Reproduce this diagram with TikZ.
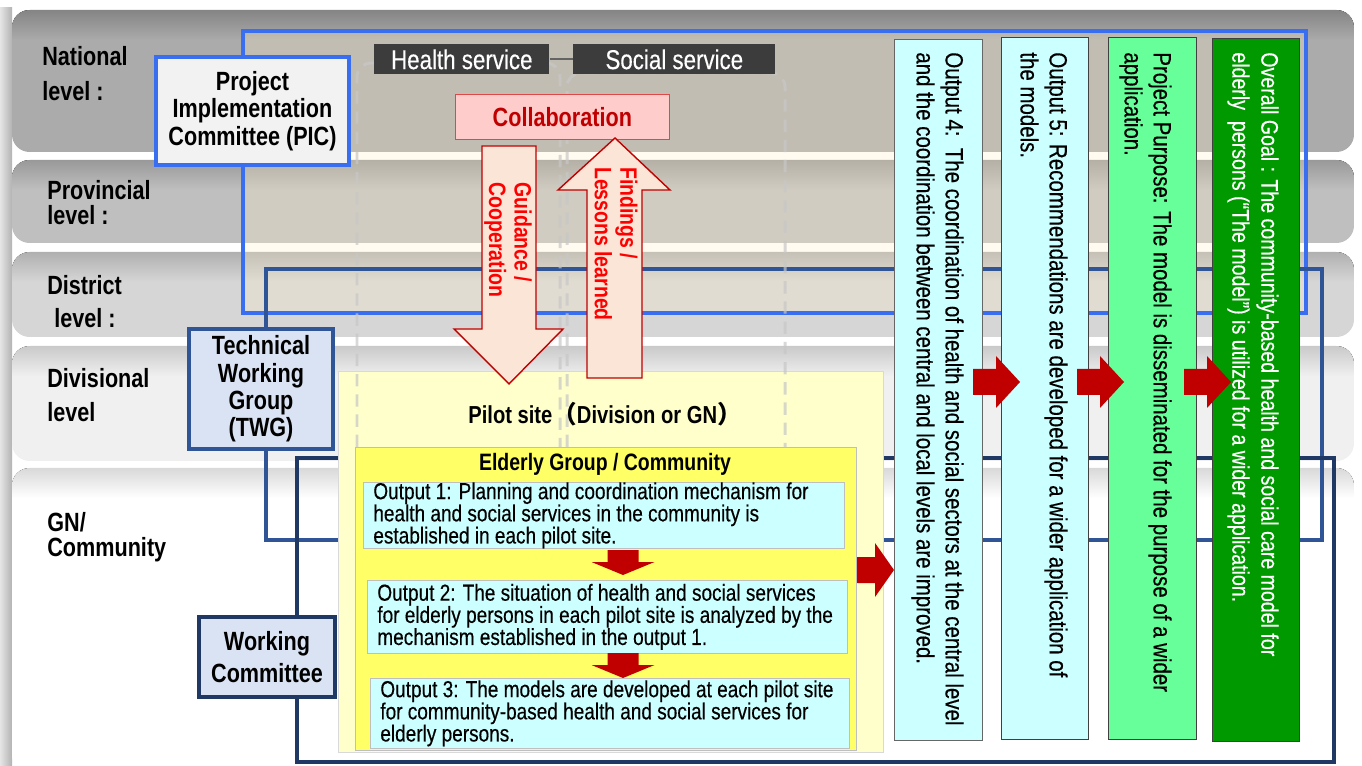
\documentclass[tikz,border=0pt]{standalone}
\usepackage{fontspec}
\setmainfont{Liberation Sans}[FakeStretch=0.82]
\newfontfamily\medfont{Liberation Sans}[FakeStretch=0.82, FakeBold=0.35]
\newfontfamily\cjkfont{Noto Sans CJK SC}

\definecolor{picblue}{HTML}{3A6EF0}
\definecolor{twgblue}{HTML}{2F5597}
\definecolor{wcnavy}{HTML}{1F3864}
\definecolor{boxblue}{HTML}{DAE3F3}
\definecolor{picfill}{HTML}{F2F2F2}
\definecolor{tanfill}{HTML}{FFEFC8}
\definecolor{darkred}{HTML}{C00000}
\definecolor{fatpeach}{HTML}{FBE5D6}
\definecolor{collabpink}{HTML}{FFCCCC}
\definecolor{collabred}{HTML}{E04848}
\definecolor{paleyellow}{HTML}{FFFFCC}
\definecolor{yellowbox}{HTML}{FFFF66}
\definecolor{cyanbox}{HTML}{CCFFFF}
\definecolor{lightgreen}{HTML}{66FF99}
\definecolor{darkgreen}{HTML}{009900}
\definecolor{servicegray}{HTML}{3C3C3C}

\tikzset{
    lvltext/.style={anchor=north west, align=left, inner sep=0pt, font=\bfseries\fontsize{15}{#1}\selectfont},
    orgframe/.style={line width=2.3pt},
    orgbox/.style={draw=#1, line width=2.3pt, fill=boxblue, anchor=north west, align=center, inner sep=0pt, font=\bfseries\fontsize{15}{15.6}\selectfont},
    service/.style={fill=servicegray, text=white, anchor=north west, inner sep=0pt, minimum height=0.6cm, font=\medfont\fontsize{15.5}{16}\selectfont},
    sitebox/.style={anchor=north west, inner sep=0pt, draw=black!15},
    sitetitle/.style={inner sep=0pt, font=\bfseries\fontsize{#1}{#1}\selectfont},
    outbox/.style={anchor=north west, inner sep=0pt, draw=black!25, fill=cyanbox},
    outtext/.style={anchor=west, align=left, inner sep=0pt, font=\medfont\fontsize{13.2}{12.6}\selectfont},
    colbox/.style={anchor=north west, inner sep=0pt, draw=black!75, line width=0.7pt},
    coltext/.style={rotate=-90, anchor=north west, align=left, inner sep=0pt, font=\medfont\fontsize{#1}{16.5}\selectfont},
    fatarrow/.style={draw=darkred, fill=fatpeach, line width=0.8pt},
    fattext/.style={rotate=-90, align=left, text=red, inner sep=0pt, font=\bfseries\fontsize{13.5}{14.5}\selectfont},
    redarrow/.style={fill=darkred},
    dashcol/.style={black!22, opacity=0.7, line width=1.7pt, dash pattern=on 7pt off 4.5pt, rounded corners=8pt}
}

\begin{document}
\begin{tikzpicture}[x=0.02cm, y=-0.02cm]
\useasboundingbox (0,0) rectangle (1362,766);

% level bands
\fill[left color=black!10, right color=black!30] (0,8) rectangle (12,766);
\foreach \ya/\yb/\c in {10/152/33, 160/243/25, 252/337/16, 346/461/6, 468/772/0}
{
    \pgfmathtruncatemacro\dk{\c+15}
    \begin{scope}
        \clip[rounded corners=10pt] (12,\ya) rectangle (1354,\yb);
        \fill[black!\c] (12,\ya) rectangle (1354,\yb);
        \fill[top color=black!\dk, bottom color=black!\c] (12,\ya) rectangle (1354,\ya+30);
    \end{scope}
}

% committee frames
\fill[tanfill, fill opacity=0.28] (243,31) rectangle (1306,313);
\draw[orgframe, picblue] (243,31) rectangle (1306,313);
\draw[orgframe, twgblue] (266,269) rectangle (1322,540);
\draw[orgframe, wcnavy] (297,458) rectangle (1334,762);

% pilot site
\node[sitebox, fill=paleyellow, minimum width=10.9cm, minimum height=7.62cm] (pilot) at (338,371) {};
\draw[dashcol] (357,447) -- (357,63) -- (560,63) -- (560,447);
\draw[dashcol] (567,447) -- (567,73) -- (785,73) -- (785,447);
\node[sitebox, fill=yellowbox, draw=black!25, minimum width=10.02cm, minimum height=6.06cm] (elderly) at (355,447) {};
\node[sitetitle=14] (pilottitle) at (605,414) {Pilot site{\cjkfont （}Division or GN{\cjkfont ）}};
\node[sitetitle=13.5] (elderlytitle) at (605,464) {Elderly Group / Community};

\node[outbox, minimum width=9.62cm, minimum height=1.32cm] (out1) at (363,482) {};
\node[outtext] (out1text) at ([xshift=0.2cm]out1.west) {Output 1: Planning and coordination mechanism for\\health and social services in the community is\\established in each pilot site.};
\node[outbox, minimum width=9.6cm, minimum height=1.46cm] (out2) at (367,580) {};
\node[outtext] (out2text) at ([xshift=0.2cm]out2.west) {Output 2: The situation of health and social services\\for elderly persons in each pilot site is analyzed by the\\mechanism established in the output 1.};
\node[outbox, minimum width=9.58cm, minimum height=1.4cm] (out3) at (370,678) {};
\node[outtext] (out3text) at ([xshift=0.2cm]out3.west) {Output 3: The models are developed at each pilot site\\for community-based health and social services for\\elderly persons.};

\foreach \y in {550,653}
{
    \fill[redarrow] (607.5,\y) -- (638.5,\y) -- (638.5,\y+12) -- (654.5,\y+12) -- (623,\y+25) -- (591.5,\y+12) -- (607.5,\y+12) -- cycle;
}

% services and collaboration
\node[service, minimum width=3.5cm] (health) at (374,44) {Health service};
\node[service, minimum width=4.04cm] (social) at (573,44) {Social service};
\draw[servicegray!80, line width=1.2pt] (health) -- (social);
\node[anchor=north west, draw=collabred, fill=collabpink, minimum width=4.28cm, minimum height=0.9cm, inner sep=0pt, text=darkred, font=\bfseries\fontsize{15}{15}\selectfont] (collab) at (455,94) {Collaboration};

\draw[fatarrow] (482,146) -- (536,146) -- (536,329) -- (563,329) -- (509,384) -- (454,329) -- (482,329) -- cycle;
\draw[fatarrow] (615,138) -- (670,190) -- (642,190) -- (642,378) -- (587,378) -- (587,190) -- (558,190) -- cycle;
\node[fattext] (guidance) at (508,240) {Guidance /\\Cooperation};
\node[fattext] (findings) at (616,244) {Findings /\\Lessons learned};

% committees
\node[orgbox=picblue, fill=picfill, minimum width=3.86cm, minimum height=2.16cm] (pic) at (154,55) {Project\\Implementation\\Committee (PIC)};
\node[orgbox=twgblue, minimum width=2.88cm, minimum height=2.4cm] (twg) at (187,327) {Technical\\Working\\Group\\(TWG)};
\node[orgbox=wcnavy, minimum width=2.72cm, minimum height=1.6cm, font=\bfseries\fontsize{15}{18}\selectfont] (wc) at (197,615) {Working\\Committee};

% outputs 4, 5, purpose and goal
\node[colbox, fill=cyanbox, draw=black!60, minimum width=1.76cm, minimum height=14.02cm] (out4) at (894,39) {};
\node[colbox, fill=cyanbox, minimum width=1.74cm, minimum height=14.04cm] (out5) at (1001,37) {};
\node[colbox, fill=lightgreen, minimum width=1.76cm, minimum height=14.04cm] (purpose) at (1108,37) {};
\node[colbox, fill=darkgreen, minimum width=1.74cm, minimum height=14.06cm] (goal) at (1212,38) {};
\node[coltext=14.2] (out4text) at (964,52) {Output 4:\ \ The coordination of health and social sectors at the central level\\and the coordination between central and local levels are improved.};
\node[coltext=14.2] (out5text) at (1068,52) {Output 5: Recommendations are developed for a wider application of\\the models.};
\node[coltext=14.2] (purposetext) at (1172,52) {Project Purpose: The model is disseminated for the purpose of a wider\\application.};
\node[coltext=13.6, text=white] (goaltext) at (1279,52) {Overall Goal : The community-based health and social care model for\\elderly\ \ persons (“The model”) is utilized for a wider application.};

\foreach \x in {973,1077,1184}
{
    \fill[redarrow] (\x,369) -- (\x+23,369) -- (\x+23,356) -- (\x+47,382) -- (\x+23,408) -- (\x+23,395) -- (\x,395) -- cycle;
}
\fill[redarrow] (857,557) -- (875,557) -- (875,543) -- (894,570) -- (875,597) -- (875,583) -- (857,583) -- cycle;

% level labels
\node[lvltext=19.8] (national) at (42,46) {National\\level :};
\node[lvltext=14.2] (provincial) at (47,180) {Provincial\\level :};
\node[lvltext=18.7] (district) at (47,275) {District\\\hspace{4pt}level :};
\node[lvltext=19.3] (divisional) at (47,368) {Divisional\\level};
\node[lvltext=14.2] (gn) at (47,512) {GN/\\Community};
\end{tikzpicture}
\end{document}
